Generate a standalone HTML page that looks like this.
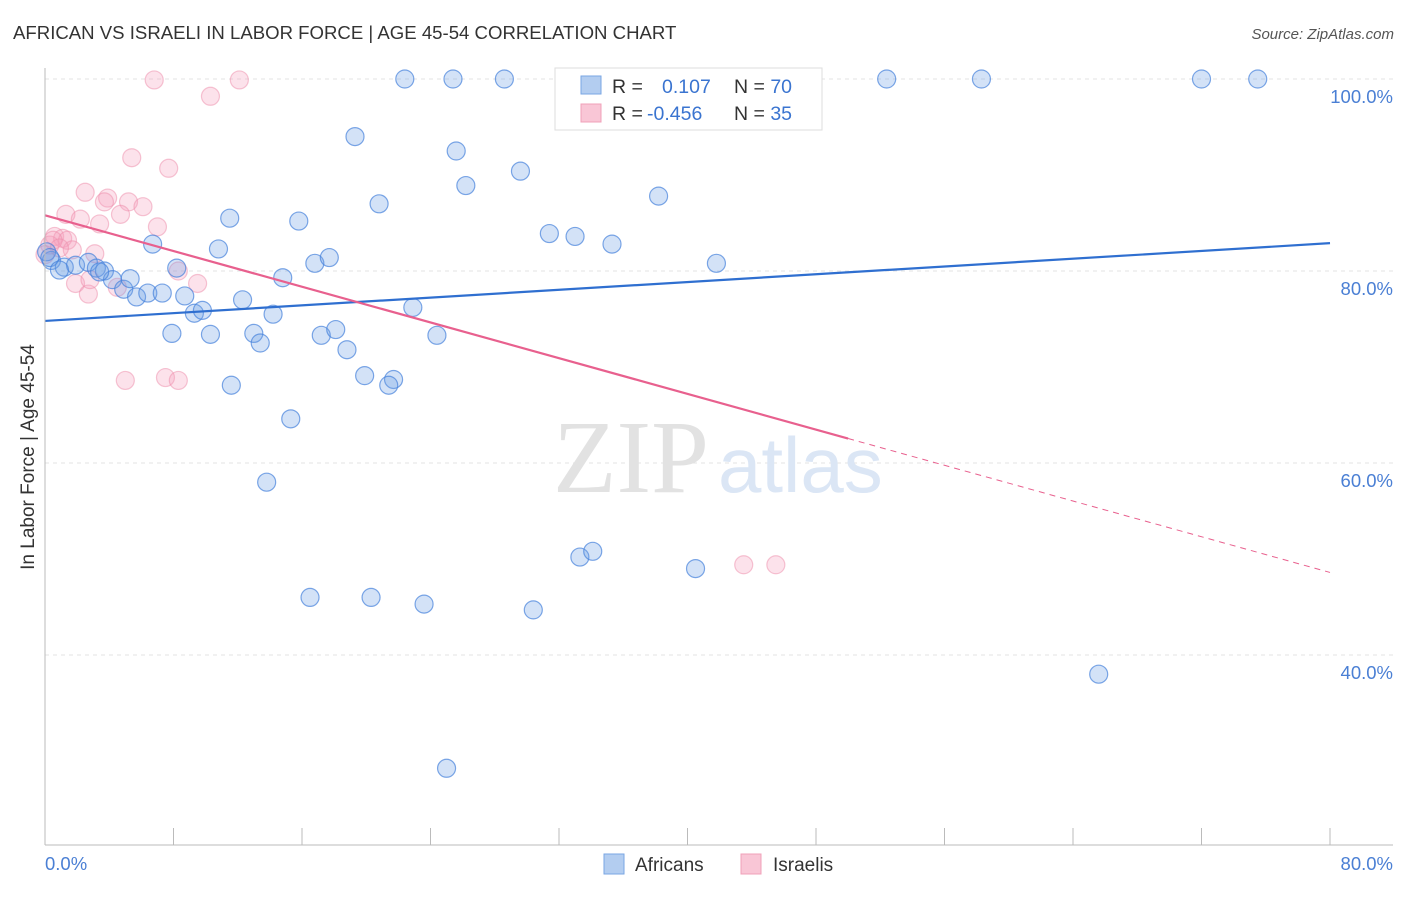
<!DOCTYPE html>
<html><head><meta charset="utf-8"><style>
body{margin:0;background:#fff;font-family:"Liberation Sans",sans-serif;}
</style></head><body>
<svg width="1406" height="892" xmlns="http://www.w3.org/2000/svg">
<text x="13" y="39" font-size="18.6" fill="#333">AFRICAN VS ISRAELI IN LABOR FORCE | AGE 45-54 CORRELATION CHART</text>
<text x="1394" y="39" font-size="15" fill="#555" font-style="italic" text-anchor="end">Source: ZipAtlas.com</text>
<g id="grid"></g>
<text x="553" y="492" font-size="104" fill="#e2e2e2" font-family="Liberation Serif,serif">ZIP</text>
<text x="718" y="492" font-size="78" fill="#dbe6f5">atlas</text>
<g id="pts"></g>
<g id="lines"></g>
<g id="axes"></g>
<text x="34" y="457" font-size="19" fill="#333" text-anchor="middle" transform="rotate(-90 34 457)">In Labor Force | Age 45-54</text>
<g>
<rect x="555" y="68" width="267" height="62" fill="#fff" stroke="#ddd"/>
<rect x="581" y="76" width="20" height="18" fill="#b3cdf0" stroke="#7aa6e3"/>
<rect x="581" y="104" width="20" height="18" fill="#f9c6d6" stroke="#f0a0b8"/>
<text x="612" y="93" font-size="19.5" fill="#333">R = <tspan fill="#3a74d0" x="662">0.107</tspan><tspan x="734">N = </tspan><tspan fill="#3a74d0">70</tspan></text>
<text x="612" y="120" font-size="19.5" fill="#333">R = <tspan fill="#3a74d0" x="647">-0.456</tspan><tspan x="734">N = </tspan><tspan fill="#3a74d0">35</tspan></text>
</g>
<g>
<rect x="604" y="854" width="20" height="20" fill="#b3cdf0" stroke="#7aa6e3"/>
<text x="635" y="871" font-size="19" fill="#333">Africans</text>
<rect x="741" y="854" width="20" height="20" fill="#f9c6d6" stroke="#f0a0b8"/>
<text x="773" y="871" font-size="19" fill="#333">Israelis</text>
</g>
</svg>
<script>
const blueX=[6.7,11.5,10.8,15.8,19.3,20.8,22.4,25.4,25.6,28.6,26.2,29.6,31.4,33.0,35.3,38.2,41.8,52.4,58.3,72.0,75.5,8.2,16.8,17.7,14.8,0.4,1.2,1.9,2.7,3.2,3.7,4.2,4.9,5.3,5.7,6.4,7.3,8.7,9.3,9.8,12.3,14.2,7.9,10.3,13.0,13.4,17.2,18.1,18.8,22.9,24.4,19.9,21.7,21.4,11.6,15.3,13.8,33.3,34.1,40.5,16.5,20.3,23.6,30.4,65.6,25.0,0.1,0.3,0.9,3.4];
const blueY=[82.8,85.5,82.3,85.2,94.0,87.0,100,100,92.5,100,88.9,90.4,83.9,83.6,82.8,87.8,80.8,100,100,100,100,80.3,80.8,81.4,79.3,81.1,80.4,80.6,80.9,80.3,80.0,79.1,78.1,79.2,77.3,77.7,77.7,77.4,75.6,75.9,77.0,75.5,73.5,73.4,73.5,72.5,73.3,73.9,71.8,76.2,73.3,69.1,68.7,68.1,68.1,64.6,58.0,50.2,50.8,49.0,46.0,46.0,45.3,44.7,38.0,28.2,82.0,81.4,80.1,79.9];
const pinkX=[6.8,12.1,10.3,5.4,7.7,2.5,3.9,3.7,5.2,4.7,6.1,1.3,2.2,3.4,7.0,0.6,1.1,1.4,1.7,3.1,0.3,0.5,0.9,8.3,9.5,1.9,2.7,2.8,4.5,5.0,7.5,8.3,43.5,45.5,0];
const pinkY=[99.9,99.9,98.2,91.8,90.7,88.2,87.6,87.2,87.2,85.9,86.7,85.9,85.4,84.9,84.6,83.6,83.4,83.2,82.2,81.8,82.7,83.2,82.4,80.0,78.7,78.7,77.6,79.1,78.3,68.6,68.9,68.6,49.4,49.4,81.7];
const blueLine=[74.8,82.9];
const pinkLine=[85.8,48.6];
const pinkSolidEnd=50;
const yTicks=[100,80,60,40];
const xTicks=[0,8,16,24,32,40,48,56,64,72,80];
const NS='http://www.w3.org/2000/svg';
const sx=v=>45+v*1285/80, sy=v=>79+(100-v)*9.6;
function mk(t,a,p){const e=document.createElementNS(NS,t);for(const k in a)e.setAttribute(k,a[k]);p.appendChild(e);return e;}
const grid=document.getElementById('grid');
yTicks.forEach(v=>{
 const l=mk('line',{x1:45,x2:1393,y1:sy(v),y2:sy(v),stroke:'#e3e3e3','stroke-dasharray':'4,4'},grid);
 
 
 const t=mk('text',{x:1393,y:sy(v)+24,'font-size':18.5,fill:'#4a7fd4','text-anchor':'end'},grid);
 t.textContent=v.toFixed(1)+'%';
 
 
});
const ax=document.getElementById('axes');
mk('line',{x1:45,x2:45,y1:68,y2:845,stroke:'#bbb'},ax);
mk('line',{x1:45,x2:1393,y1:845,y2:845,stroke:'#bbb'},ax);
xTicks.forEach(v=>{
 const l=mk('line',{x1:sx(v),x2:sx(v),y1:828,y2:845,stroke:'#bbb'},ax);
 
 
});
[[0,45,'start'],[80,1393,'end']].forEach(([v,x,a])=>{
 const t=mk('text',{x:x,y:870,'font-size':18.5,fill:'#4a7fd4','text-anchor':a},ax);
 t.textContent=v.toFixed(1)+'%';
 
 
});
const pts=document.getElementById('pts');
pinkX.forEach((x,i)=>{
 const c=mk('circle',{cx:sx(x),cy:sy(pinkY[i]),r:9,fill:'rgba(244,160,190,0.3)',stroke:'rgba(238,140,170,0.5)','stroke-width':1.2},pts);
 
 
});
blueX.forEach((x,i)=>{
 const c=mk('circle',{cx:sx(x),cy:sy(blueY[i]),r:9,fill:'rgba(110,160,230,0.3)',stroke:'rgba(70,130,220,0.7)','stroke-width':1.2},pts);
 
 
});
const ln=document.getElementById('lines');
const by=x=>blueLine[0]+(blueLine[1]-blueLine[0])*x/80, py=x=>pinkLine[0]+(pinkLine[1]-pinkLine[0])*x/80;
const b=mk('line',{x1:sx(0),y1:sy(by(0)),x2:sx(80),y2:sy(by(80)),stroke:'#2f6fd0','stroke-width':2.2},ln);


const p=mk('line',{x1:sx(0),y1:sy(py(0)),x2:sx(pinkSolidEnd),y2:sy(py(pinkSolidEnd)),stroke:'#e8608e','stroke-width':2.2},ln);


const pd=mk('line',{x1:sx(pinkSolidEnd),y1:sy(py(pinkSolidEnd)),x2:sx(80),y2:sy(py(80)),stroke:'#e8608e','stroke-width':1,'stroke-dasharray':'6,5'},ln);


</script>
</body></html>
